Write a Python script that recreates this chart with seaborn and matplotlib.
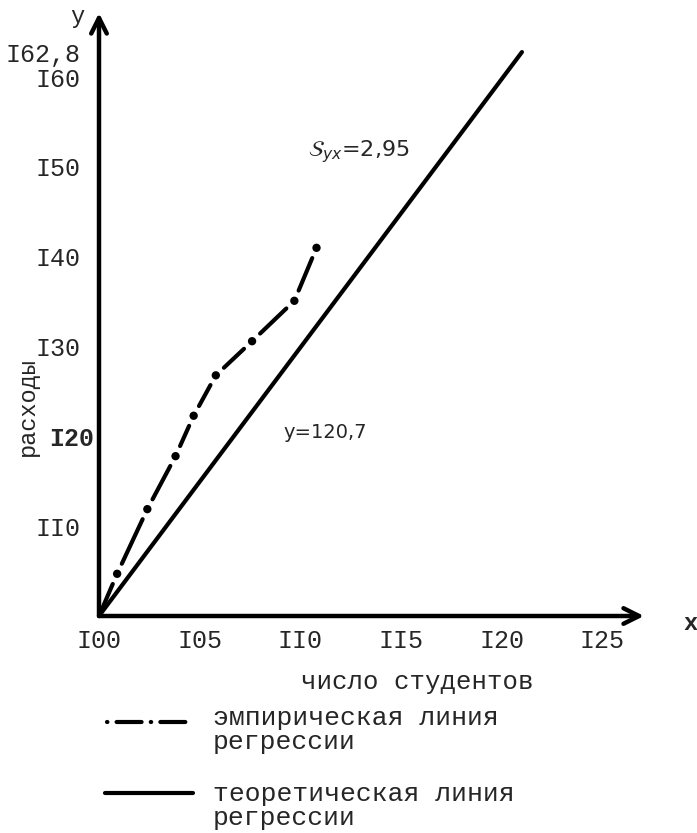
import numpy as np
import pandas as pd
import matplotlib
matplotlib.use('Agg')
import matplotlib.pyplot as plt
import matplotlib.transforms as mtransforms
from matplotlib.lines import Line2D
import seaborn as sns

# data
emp_x = [100, 100.9, 102.4, 103.8, 104.7, 105.8, 107.6, 109.7, 110.8]
emp_y = [100, 104.7, 111.9, 117.8, 122.3, 126.8, 130.6, 135.1, 141.0]
theo_x = [100, 121]
theo_y = [100, 162.8]

x_ticks = [100, 105, 110, 115, 120, 125]
x_labels = ['I00', 'I05', 'II0', 'II5', 'I20', 'I25']
y_ticks = [110, 120, 130, 140, 150, 160, 162.8]
y_labels = ['II0', 'I20', 'I30', 'I40', 'I50', 'I60', 'I62,8']

sns.set_style('white')
MONO = ['Liberation Mono', 'DejaVu Sans Mono']
plt.rcParams['font.family'] = MONO

W, H = 697, 833
fig = plt.figure(figsize=(W / 100, H / 100), dpi=100)

# axes placed so the origin sits where it does on the scan
ox, oy = 99, 616
px_x, px_y = 20.14, 8.98
right_px, top_px = 644, 13
ax = fig.add_axes([ox / W, (H - oy) / H, (right_px - ox) / W, (oy - top_px) / H])
ax.set_xlim(100, 100 + (right_px - ox) / px_x)
ax.set_ylim(100, 100 + (oy - top_px) / px_y)
ax.patch.set_alpha(0)
for s in ax.spines.values():
    s.set_visible(False)

# axis arrows
arrow = dict(arrowstyle='->', lw=3.2, color='black', mutation_scale=28,
             shrinkA=0, shrinkB=0)
ax.annotate('', xy=(1, 0), xytext=(0, 0), xycoords='axes fraction',
            textcoords='axes fraction', arrowprops=arrow)
ax.annotate('', xy=(0, 1), xytext=(0, 0), xycoords='axes fraction',
            textcoords='axes fraction', arrowprops=arrow)

ax.set_xticks(x_ticks)
ax.set_xticklabels(x_labels, fontsize=18)
ax.set_yticks(y_ticks)
ax.set_yticklabels(y_labels, fontsize=18)
ax.tick_params(axis='both', length=3, width=2.5, color='black',
               direction='inout', pad=8)
ax.tick_params(axis='y', pad=12)

# on the scan the "I20" label was typed right against the axis
for lab in ax.get_yticklabels():
    if lab.get_text() == 'I20':
        lab.set_transform(lab.get_transform() +
                          mtransforms.ScaledTranslation(14 / 100, 0, fig.dpi_scale_trans))
        lab.set_fontweight('bold')

# theoretical regression line
sns.lineplot(x=theo_x, y=theo_y, ax=ax, color='black', lw=3)

# empirical line: dots with a dash between each pair
sns.scatterplot(x=emp_x[1:], y=emp_y[1:], ax=ax, color='black', s=36,
                edgecolor='none', zorder=5)
for i in range(len(emp_x) - 1):
    ax.annotate('', xy=(emp_x[i + 1], emp_y[i + 1]), xytext=(emp_x[i], emp_y[i]),
                arrowprops=dict(arrowstyle='-', lw=3, color='black',
                                shrinkA=8 if i else 0, shrinkB=8))

fig.text(308 / W, 1 - 152 / H, r'$\mathcal{S}_{yx}$=2,95', fontsize=16,
         family='DejaVu Sans', va='center', ha='left')
fig.text(283 / W, 1 - 432 / H, 'y=120,7', fontsize=14,
         family='DejaVu Sans', va='center', ha='left')

# axis names
fig.text(77 / W, 1 - 17 / H, 'y', fontsize=17, ha='center', va='center')
fig.text(691 / W, 1 - 624 / H, 'x', fontsize=17, ha='center', va='center',
         fontweight='bold')
fig.text(27 / W, 1 - 407 / H, 'расходы', fontsize=17, rotation=90,
         ha='center', va='center')
fig.text(417 / W, 1 - 682 / H, 'число студентов', fontsize=18.5,
         ha='center', va='center')

# legend under the chart
fig.add_artist(Line2D([107 / W, 192 / W], [1 - 722 / H] * 2, color='black',
                      lw=3, linestyle=(0, (0.1, 2.2, 6, 2.2)),
                      dash_capstyle='round'))
fig.add_artist(Line2D([105 / W, 193 / W], [1 - 793 / H] * 2, color='black', lw=3))
fig.text(213 / W, 1 - 730 / H, 'эмпирическая линия\nрегрессии', fontsize=19,
         ha='left', va='center', linespacing=0.95)
fig.text(213 / W, 1 - 806 / H, 'теоретическая линия\nрегрессии', fontsize=19,
         ha='left', va='center', linespacing=0.95)

plt.savefig('out.png', dpi=100)
plt.close()
